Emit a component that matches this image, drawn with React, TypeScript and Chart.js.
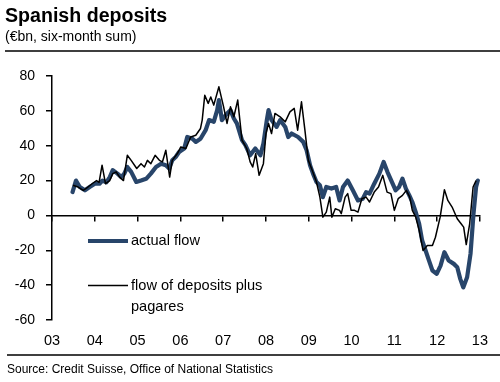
import React, { useEffect, useRef } from "react";
import { Chart, registerables } from "chart.js";

Chart.register(...registerables);

const FONT = '"Liberation Sans", Arial, Helvetica, sans-serif';

const titleText = "Spanish deposits";
const subtitleText = "(€bn, six-month sum)";
const sourceText = "Source: Credit Suisse, Office of National Statistics";

const yearLabels = ["03", "04", "05", "06", "07", "08", "09", "10", "11", "12", "13"];
const firstYear = 2003;
const lastYear = 2013;
const yMin = -60;
const yMax = 80;
const yStep = 20;

const actualLabel = "actual flow";
const pagaresLabel = ["flow of deposits plus", "pagares"];

const actualYears = [2003.48, 2003.56, 2003.65, 2003.77, 2003.88, 2004.0, 2004.11, 2004.18, 2004.27, 2004.35, 2004.42, 2004.53, 2004.62, 2004.69, 2004.76, 2004.85, 2004.97, 2005.08, 2005.2, 2005.31, 2005.43, 2005.55, 2005.66, 2005.74, 2005.81, 2005.89, 2005.97, 2006.09, 2006.16, 2006.28, 2006.36, 2006.47, 2006.59, 2006.67, 2006.78, 2006.86, 2006.9, 2006.97, 2007.09, 2007.17, 2007.25, 2007.32, 2007.44, 2007.52, 2007.63, 2007.75, 2007.87, 2007.94, 2008.02, 2008.06, 2008.13, 2008.25, 2008.33, 2008.45, 2008.52, 2008.6, 2008.75, 2008.87, 2008.95, 2009.03, 2009.1, 2009.18, 2009.26, 2009.33, 2009.41, 2009.53, 2009.64, 2009.72, 2009.8, 2009.91, 2010.03, 2010.15, 2010.26, 2010.34, 2010.42, 2010.53, 2010.65, 2010.75, 2010.84, 2010.96, 2011.03, 2011.11, 2011.19, 2011.27, 2011.35, 2011.42, 2011.5, 2011.58, 2011.65, 2011.73, 2011.81, 2011.89, 2011.99, 2012.08, 2012.17, 2012.27, 2012.39, 2012.47, 2012.54, 2012.61, 2012.7, 2012.78, 2012.85, 2012.91, 2012.95];
const actualValues = [13.4, 20, 16.3, 14.4, 16.3, 18.2, 18.2, 20, 19, 22, 26, 24, 22, 24, 27.8, 25, 19.2, 20, 21, 24, 27.8, 29.7, 28.8, 26.9, 31.6, 33.5, 36.4, 38.4, 45, 44, 42.2, 44, 48.9, 54.7, 53.7, 60.4, 66.2, 54.7, 58.5, 60.4, 55.6, 52.8, 43.2, 40.3, 34.5, 38.4, 34.5, 41.3, 54.7, 60.4, 54.7, 50.8, 54.7, 50.8, 45, 47, 45, 42.2, 37.4, 28.8, 24, 19.2, 17.3, 10.5, 16.3, 15.4, 16.3, 8.6, 16.3, 20, 14.4, 8.6, 9.5, 13.4, 12.5, 18.2, 24, 30.7, 24.9, 18.2, 14.4, 16.3, 21.1, 15.4, 11.5, 7.7, 1.9, -4.8, -14.4, -20.1, -25.9, -31.6, -33.5, -28.8, -21.1, -25.9, -27.8, -29.7, -36.4, -41.3, -35.5, -22, 1, 16.3, 20];

const pagaresYears = [2003.49, 2003.61, 2003.73, 2003.84, 2003.96, 2004.04, 2004.1, 2004.17, 2004.25, 2004.35, 2004.42, 2004.5, 2004.58, 2004.67, 2004.76, 2004.85, 2004.98, 2005.08, 2005.16, 2005.23, 2005.31, 2005.41, 2005.51, 2005.58, 2005.66, 2005.75, 2005.81, 2005.93, 2006.01, 2006.13, 2006.24, 2006.36, 2006.47, 2006.51, 2006.57, 2006.65, 2006.71, 2006.78, 2006.9, 2007.01, 2007.09, 2007.17, 2007.25, 2007.34, 2007.44, 2007.55, 2007.63, 2007.69, 2007.76, 2007.84, 2007.94, 2008.0, 2008.06, 2008.13, 2008.21, 2008.33, 2008.45, 2008.56, 2008.66, 2008.74, 2008.83, 2008.91, 2008.99, 2009.08, 2009.18, 2009.26, 2009.33, 2009.41, 2009.49, 2009.54, 2009.62, 2009.72, 2009.76, 2009.85, 2009.91, 2009.99, 2010.07, 2010.15, 2010.24, 2010.34, 2010.42, 2010.53, 2010.63, 2010.73, 2010.83, 2010.92, 2011.0, 2011.09, 2011.19, 2011.28, 2011.36, 2011.42, 2011.5, 2011.58, 2011.67, 2011.77, 2011.89, 2011.96, 2012.07, 2012.17, 2012.25, 2012.35, 2012.47, 2012.56, 2012.62, 2012.68, 2012.76, 2012.84, 2012.91];
const pagaresValues = [17.3, 16.3, 14.4, 16.3, 18.6, 20, 19, 28.8, 18.2, 20, 24, 25, 22, 20, 34.5, 31.6, 26.9, 29.7, 27.8, 31.6, 29.7, 34.5, 31.6, 30.7, 37.4, 22, 31.6, 35.5, 39.3, 38.4, 45, 46, 49.9, 54.7, 69, 64.3, 68, 63.3, 73.8, 62.3, 52.8, 62.3, 56.6, 66.2, 43.2, 38.4, 30.7, 27.8, 35.5, 23, 29.7, 47, 52.8, 47, 58.5, 56.6, 53.7, 59.4, 61.4, 48.9, 65.2, 48.9, 31.6, 25.9, 19.2, 10.5, -1, 1.9, 10.5, -1, 3.8, 2.9, 1, 10.5, 12.5, 2.9, 2.9, 1.9, 9.6, 10.5, 7.7, 13.4, 16.3, 23, 13.4, 12.5, 2.9, 9.6, 11.5, 14.4, 10.5, 2.9, -1, -8.6, -20.1, -17.3, -17.3, -12.5, -1, 14.8, 8.6, 4.8, -1.9, -4.8, -6.7, -16.7, -4.8, 16.3, 20];

const BLUE = "#28456a";
const BLACK = "#000000";

const decorPlugin = {
  id: "decor",
  afterDraw(chart: any) {
    const { ctx, chartArea } = chart;
    ctx.save();
    ctx.fillStyle = "#000";
    ctx.textAlign = "left";
    ctx.textBaseline = "alphabetic";
    ctx.font = `bold 19.6px ${FONT}`;
    ctx.fillText(titleText, 5, 22);
    ctx.font = `14px ${FONT}`;
    ctx.fillText(subtitleText, 5, 40.5);
    ctx.strokeStyle = "#000";
    ctx.lineWidth = 1.5;
    ctx.beginPath();
    ctx.moveTo(5, 51);
    ctx.lineTo(500, 51);
    ctx.moveTo(7, 355);
    ctx.lineTo(500, 355);
    ctx.stroke();
    ctx.font = `12px ${FONT}`;
    ctx.fillText(sourceText, 7, 373);

    // legend inside the plot area, styled from the datasets
    const ds = chart.data.datasets;
    const x0 = chartArea.left + 36;
    const x1 = chartArea.left + 76;
    const tx = chartArea.left + 79;
    const rows = [
      { d: ds[1], y: chartArea.top + 165, lines: [actualLabel] },
      { d: ds[0], y: chartArea.top + 209.5, lines: pagaresLabel },
    ];
    ctx.font = `14.6px ${FONT}`;
    ctx.textBaseline = "middle";
    for (const r of rows) {
      ctx.strokeStyle = r.d.borderColor;
      ctx.lineWidth = r.d.borderWidth;
      ctx.lineCap = "butt";
      ctx.beginPath();
      ctx.moveTo(x0, r.y);
      ctx.lineTo(x1, r.y);
      ctx.stroke();
      r.lines.forEach((t: string, i: number) => ctx.fillText(t, tx, r.y + i * 21.5));
    }
    ctx.restore();
  },
};

export default function App() {
  const ref = useRef<HTMLCanvasElement | null>(null);
  useEffect(() => {
    if (!ref.current) return;
    const chart = new Chart(ref.current, {
      type: "line",
      data: {
        datasets: [
          {
            label: pagaresLabel.join(" "),
            data: pagaresYears.map((x, i) => ({ x, y: pagaresValues[i] })),
            borderColor: BLACK,
            borderWidth: 1.5,
            pointRadius: 0,
            tension: 0,
            fill: false,
            borderJoinStyle: "round",
            xAxisID: "x",
            yAxisID: "y",
          },
          {
            label: actualLabel,
            data: actualYears.map((x, i) => ({ x, y: actualValues[i] })),
            borderColor: BLUE,
            borderWidth: 4.2,
            pointRadius: 0,
            tension: 0,
            fill: false,
            borderJoinStyle: "round",
            borderCapStyle: "round",
            xAxisID: "x",
            yAxisID: "y",
          },
        ],
      },
      options: {
        animation: false,
        responsive: false,
        devicePixelRatio: 1,
        layout: { padding: { top: 76, right: 17, bottom: 32, left: 0 } },
        plugins: { legend: { display: false }, tooltip: { enabled: false }, title: { display: false } },
        scales: {
          x: {
            type: "linear",
            position: "bottom",
            min: firstYear,
            max: lastYear,
            grid: { display: false, drawTicks: false },
            border: { display: false },
            ticks: {
              stepSize: 1,
              autoSkip: false,
              maxRotation: 0,
              padding: 12,
              color: "#000",
              font: { family: FONT, size: 14.5 },
              callback: (v: any) => yearLabels[Math.round(Number(v)) - firstYear] ?? "",
            },
            afterFit: (s: any) => {
              s.height = 30;
            },
          },
          x0: {
            type: "linear",
            position: { y: 0 },
            min: firstYear,
            max: lastYear,
            grid: { drawOnChartArea: false, drawTicks: true, tickLength: 5, color: "#000", lineWidth: 1.5 },
            border: { display: true, color: "#000", width: 1.5 },
            ticks: { stepSize: 1, display: false, autoSkip: false },
            afterFit: (s: any) => {
              s.height = 0;
            },
          },
          y: {
            type: "linear",
            position: "left",
            min: yMin,
            max: yMax,
            grid: { drawOnChartArea: false, drawTicks: true, tickLength: 6, color: "#000", lineWidth: 1.5 },
            border: { display: true, color: "#000", width: 1.5 },
            ticks: {
              stepSize: yStep,
              padding: 11,
              color: "#000",
              font: { family: FONT, size: 14 },
            },
            afterFit: (s: any) => {
              s.width = 52;
            },
          },
        },
      } as any,
      plugins: [decorPlugin],
    });
    return () => chart.destroy();
  }, []);
  return (
    <canvas
      ref={ref}
      width={500}
      height={382}
      style={{ position: "absolute", left: 0, top: 0, width: 500, height: 382, display: "block" }}
    />
  );
}
